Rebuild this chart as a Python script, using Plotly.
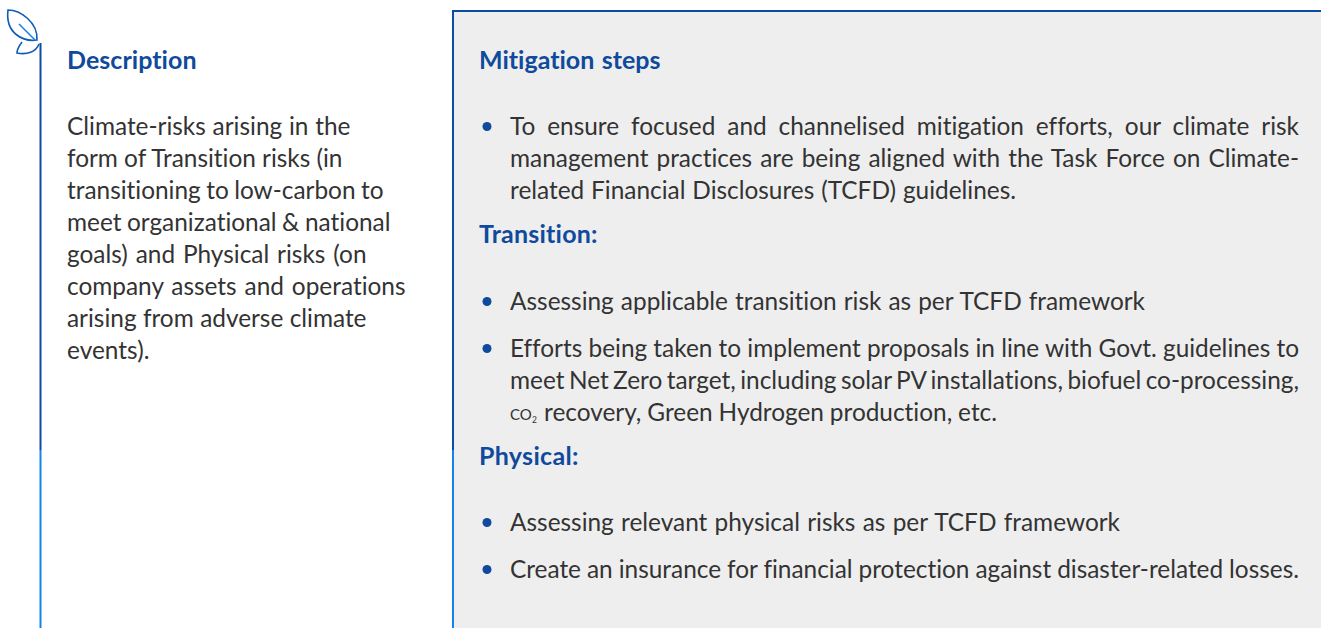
import json
import plotly.graph_objects as go

W, H = 1321, 628
FONT = "Lato"
HEAD = "#0F4A9C"
BODY = "#333333"
DARK_LINE = "#0D4DA1"
BRIGHT_LINE = "#1384EE"
PAD_X, PAD_Y = 2.5, 1

left_heading = ["Description"]
left_lines = [
    "Climate-risks arising in the",
    "form of Transition risks (in",
    "transitioning to low-carbon to",
    "meet organizational &amp; national",
    "goals) and Physical risks (on",
    "company assets and operations",
    "arising from adverse climate",
    "events).",
]
left_y = [126, 158, 190, 222, 254, 286, 318, 350]
left_end = [351, 343, 384, 391, 367, 406, 367, 150]

right_headings = ["Mitigation steps", "Transition:", "Physical:"]
right_heading_y = [60, 234, 456]
right_lines = [
    "To ensure focused and channelised mitigation efforts, our climate risk",
    "management practices are being aligned with the Task Force on Climate-",
    "related Financial Disclosures (TCFD) guidelines.",
    "Assessing applicable transition risk as per TCFD framework",
    "Efforts being taken to implement proposals in line with Govt. guidelines to",
    "meet Net Zero target, including solar PV installations, biofuel co-processing,",
    "recovery, Green Hydrogen production, etc.",
    "Assessing relevant physical risks as per TCFD framework",
    "Create an insurance for financial protection against disaster-related losses.",
]
right_y = [126, 158, 190, 301, 348, 380, 412, 522, 569]
right_x = [510, 510, 510, 510, 510, 510, 544, 510, 510]
right_end = [1299, 1299, 1016, 1145, 1299, 1299, 997, 1120, 1299]
bullet_y = [126, 301, 348, 522, 569]

shapes = [
    dict(type="rect", x0=452, x1=W + 2, y0=11, y1=H + 2, fillcolor="#EEEEEE", line_width=0, layer="below"),
    dict(type="line", x0=40.5, x1=40.5, y0=43, y1=450, line=dict(color=DARK_LINE, width=2)),
    dict(type="line", x0=40.5, x1=40.5, y0=450, y1=H + 2, line=dict(color=BRIGHT_LINE, width=2)),
    dict(type="line", x0=453, x1=453, y0=11, y1=450, line=dict(color=DARK_LINE, width=2)),
    dict(type="line", x0=453, x1=453, y0=450, y1=H + 2, line=dict(color=BRIGHT_LINE, width=2)),
    dict(type="line", x0=452, x1=W + 2, y0=11, y1=11, line=dict(color=DARK_LINE, width=2)),
    # leaf icon
    dict(type="path", path="M 8 10 C 20 10 38 22 37 40 C 24 42 5 34 8 10 Z", line=dict(color="#0F5CB8", width=1.6)),
    dict(type="path", path="M 19 24 L 35 40", line=dict(color="#1384EE", width=1.6)),
    dict(type="path", path="M 22 42 C 19 46 17 50 17 53 C 27 55 36 52 39 44", line=dict(color="#0F5CB8", width=1.6)),
]
for y in bullet_y:
    shapes.append(dict(type="circle", x0=482.5, x1=491.5, y0=y - 4, y1=y + 5, fillcolor="#0F4A9C", line_width=0))

ann = []
targets = []
def add(text, x, y, size, color, bold=False, end=None):
    t = f"<b>{text}</b>" if bold else text
    ann.append(dict(text=t, x=x - PAD_X, y=y - PAD_Y, xref="x", yref="y", xanchor="left", yanchor="middle",
                    showarrow=False, align="left", font=dict(family=FONT, size=size, color=color)))
    targets.append(None if end is None else end - x)

add(left_heading[0], 67.5, 60, 25, HEAD, True, 197)
for t, y, e in zip(left_lines, left_y, left_end):
    add(t, 67.5, y, 24.4, BODY, end=e)
for t, y, e in zip(right_headings, right_heading_y, [661, 598, 579]):
    add(t, 479.5, y, 25, HEAD, True, e)
for t, x, y, e in zip(right_lines, right_x, right_y, right_end):
    add(t, x, y, 24.4, BODY, end=e)
add("CO", 510, 415, 15, BODY)
add("2", 532, 421, 8.5, BODY)

post = """
document.body.style.margin = '0';
var targets = %s;
var ws = document.querySelectorAll('.annotation-text');
ws.forEach(function (el, i) {
  el.style.fontVariantLigatures = 'none';
  var want = targets[i];
  if (want === null || want === undefined) return;
  var have = el.getComputedTextLength();
  var gaps = (el.textContent.match(/ /g) || []).length;
  if (gaps) { el.style.wordSpacing = ((want - have) / gaps) + 'px'; }
  var after = el.getComputedTextLength();
  var chars = el.textContent.length - 1;
  if (!gaps) { el.style.letterSpacing = ((want - after) / chars) + 'px'; }
});
""" % json.dumps(targets)

fig = go.Figure()
fig.update_layout(
    width=W, height=H, margin=dict(l=0, r=0, t=0, b=0),
    paper_bgcolor="white", plot_bgcolor="white", showlegend=False,
    xaxis=dict(range=[0, W], visible=False, fixedrange=True),
    yaxis=dict(range=[H, 0], visible=False, fixedrange=True),
    shapes=shapes, annotations=ann,
)
fig.write_html("out.html", config=dict(displayModeBar=False), post_script=post)
